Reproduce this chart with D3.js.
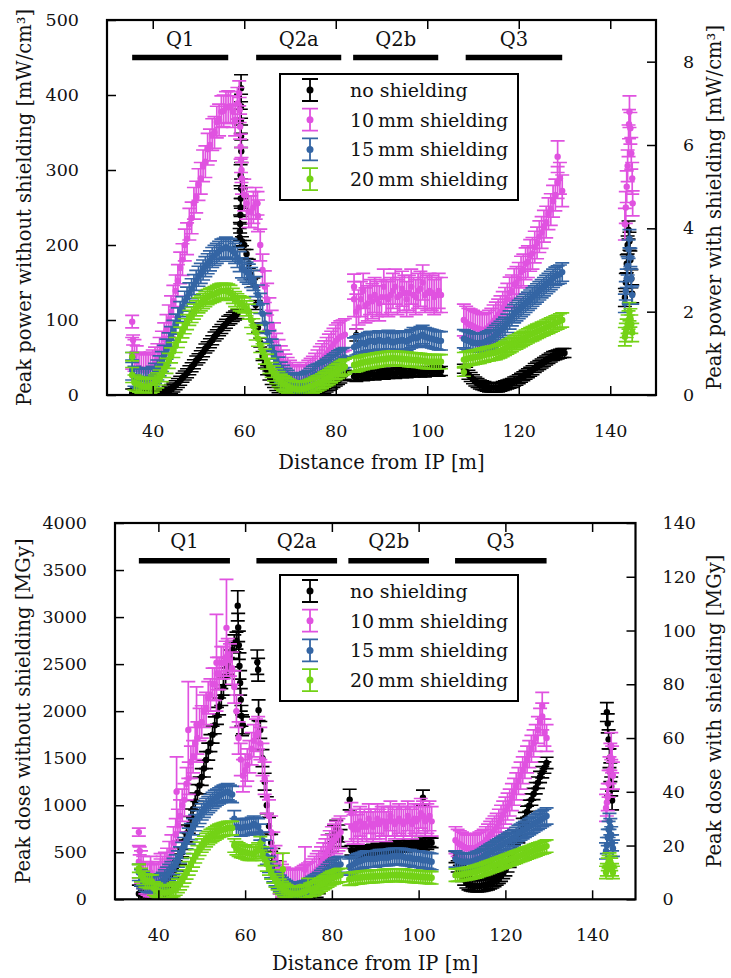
<!DOCTYPE html>
<html>
<head>
<meta charset="utf-8">
<script src="https://cdn.jsdelivr.net/npm/d3@7"></script>
<style>
body { margin: 0; background: #fff; }
text { font-family: "DejaVu Serif", serif; font-size: 19.5px; fill: #111; }
.tick text { font-size: 17.5px; }
.legend text { font-size: 19px; }
</style>
</head>
<body>
<svg id="chart" width="731" height="978"></svg>
<script>
// shared categories
var xTicks = [40, 60, 80, 100, 120, 140];
var legendNames = ["no shielding", "10\u2009mm shielding", "15\u2009mm shielding", "20\u2009mm shielding"];
var colors = ["#000000", "#e052e0", "#3465a4", "#73d216"];
var magnetNames = ["Q1", "Q2a", "Q2b", "Q3"];
var magnetStart = [35.5, 62.6, 83.8, 108.4];
var magnetEnd = [56.5, 81.2, 102.4, 129.5];

// sampling positions along the beam line (m), one list per stretch of magnets
var gridA = d3.range(71, 165).map(function(k) { return k / 2; });   // 35.5 .. 82
var gridB = d3.range(168, 207).map(function(k) { return k / 2; });  // 84 .. 103
var gridC = d3.range(216, 261).map(function(k) { return k / 2; });  // 108 .. 130
var gridD = d3.range(716, 725).map(function(k) { return k / 5; });  // 143.2 .. 144.8
var grids = [gridA, gridB, gridC, gridD];

// ---- top panel: peak power (left axis mW/cm3 for no shielding, right axis for shielded)
var powerLeftTicks = [0, 100, 200, 300, 400, 500];
var powerRightTicks = [0, 2, 4, 6, 8];

var powerNone = [
 [2,2,2,1,1,1,1,1,1,1, 1,1,2,2,3,4,6,8,10,13, 16,19,23,26,29,33,37,41,46,49, 53,57,62,65,69,73,78,81,85,88,
  92,95,99,101,104,106,108,null,205,200, 188,175,160,150,120,90,70,52,42,33, 26,20,16,12,9,6,4,3,2,1,
  1,1,1,1,1,1,1,2,2,3, 4,5,6,7,8,10,12,14,16,18, 20,22,25,27],
 [25,24,26,27,25,27,26,28,27,26, 27,29,28,27,29,28,30,29,28,30, 30,29,31,29,30,31,30,32,31,30, 31,30,32,31,31,32,33,31,32],
 [35,31,27,24,21,18,16,14,13,12, 11,10,10,10,10,10,11,12,13,14, 15,16,18,19,21,23,25,27,29,31, 33,36,38,40,42,44,46,48,50,52, 53,54,55,56,56],
 [130,150,175,200,220,205,180,155,135]
];
var powerNoneErr = [6, 6, 6, 12];
var powerNoneExtra = [[59.0,210,12],[59.05,218,12],[59.1,228,12],[59.15,240,12],[59.2,250,12],[59.25,262,13],[59.3,275,13],[59.2,293,14],[59.35,325,15],[59.3,345,15],[59.25,365,16],[59.3,385,16],[59.3,409,18],[84.5,80,8]];

var powerTen = [
 [1.0,0.95,0.8,0.65,0.62,0.6,0.58,0.6,0.65,0.7, 0.77,0.85,1.0,1.15,1.35,1.55,1.78,2.0,2.25,2.5, 2.75,3.05,3.25,3.6,3.75,4.1,4.25,4.6,4.75,5.05, 5.2,5.5,5.6,5.9,6.0,6.25,6.3,6.55,6.6,6.8,
  6.82,6.9,6.92,6.9,6.8,6.6,7.0,null,5.2,4.8, 4.6,4.4,4.4,4.5,4.6,4.3,3.6,3.0,2.6,2.3, 1.95,1.65,1.35,1.1,0.95,0.8,0.7,0.6,0.52,0.45,
  0.4,0.35,0.32,0.3,0.32,0.35,0.4,0.45,0.5,0.55, 0.62,0.7,0.78,0.85,0.92,1.0,1.08,1.15,1.22,1.3, 1.35,1.4,1.42,1.45],
 [2.3,2.0,2.1,2.3,2.5,2.15,2.2,2.35,2.25,2.4, 2.3,2.2,2.35,2.6,2.35,2.3,2.4,2.5,2.6,2.35, 2.4,2.55,2.45,2.3,2.45,2.6,2.4,2.35,2.5,2.55, 2.7,2.4,2.45,2.5,2.45,2.35,2.4,2.5,2.4],
 [1.8,1.75,1.7,1.68,1.65,1.62,1.6,1.58,1.55,1.57, 1.6,1.65,1.7,1.78,1.85,1.92,2.0,2.1,2.2,2.3, 2.45,2.5,2.65,2.7,2.8,2.95,3.0,3.15,3.2,3.35, 3.4,3.55,3.65,3.8,3.9,4.05,4.15,4.35,4.45,4.65, 4.8,5.1,5.2,4.9,null],
 [4.1,4.5,5.0,5.5,6.1,6.8,6.4,5.8,5.2]
];
var powerTenErr = [0.38, 0.42, 0.38, 0.38];
var powerTenExtra = [[35.5,1.76,0.15],[35.7,1.32,0.12],[58.9,7.24,0.3],[59.0,6.84,0.3],[59.1,6.44,0.3],[59.2,5.96,0.3],[59.3,5.64,0.3],[59.4,5.4,0.3],[62.9,4.6,0.28],[84,2.6,0.3],[128.5,5.72,0.38],[144.1,6.5,0.35],[144.9,4.6,0.3]];

var powerFifteen = [
 [0.6,0.45,0.42,0.4,0.39,0.38,0.38,0.4,0.42,0.45, 0.52,0.6,0.7,0.8,0.95,1.1,1.25,1.4,1.55,1.7, 1.85,2.0,2.12,2.25,2.35,2.45,2.55,2.65,2.75,2.85, 2.92,3.0,3.08,3.15,3.22,3.3,3.35,3.4,3.45,3.5,
  3.52,3.55,3.52,3.5,3.45,3.4,3.3,3.2,3.05,3.0, 2.95,2.9,2.82,2.75,2.6,2.4,2.2,1.95,1.72,1.5, 1.3,1.1,0.95,0.8,0.67,0.55,0.47,0.4,0.35,0.3,
  0.27,0.25,0.25,0.25,0.27,0.3,0.32,0.35,0.4,0.45, 0.48,0.5,0.52,0.55,0.58,0.62,0.66,0.7,0.74,0.78, 0.82,0.85,0.88,0.9],
 [1.15,1.18,1.2,1.25,1.25,1.22,1.28,1.3,1.3,1.27, 1.3,1.32,1.3,1.28,1.3,1.33,1.28,1.26,1.28,1.3, 1.3,1.32,1.3,1.28,1.32,1.35,1.4,1.36,1.38,1.42, 1.45,1.4,1.38,1.36,1.35,1.33,1.32,1.3,1.3],
 [1.35,1.32,1.3,1.28,1.25,1.25,1.25,1.25,1.25,1.27, 1.3,1.32,1.35,1.4,1.45,1.5,1.55,1.6,1.65,1.72, 1.8,1.88,1.95,2.0,2.05,2.1,2.15,2.2,2.25,2.3, 2.35,2.4,2.45,2.5,2.55,2.6,2.65,2.7,2.75,2.8, 2.85,2.88,2.9,2.95,null],
 [2.2,2.5,2.8,3.1,3.5,3.75,3.3,2.8,2.4]
];
var powerFifteenErr = [0.24, 0.22, 0.22, 0.22];
var powerFifteenExtra = [[35.5,0.9,0.12]];

var powerTwenty = [
 [0.48,0.3,0.27,0.25,0.22,0.2,0.2,0.2,0.22,0.25, 0.3,0.35,0.42,0.5,0.6,0.7,0.82,0.95,1.08,1.2, 1.32,1.45,1.55,1.65,1.75,1.85,1.92,2.0,2.08,2.15, 2.2,2.25,2.3,2.35,2.38,2.4,2.42,2.45,2.48,2.5,
  2.5,2.5,2.48,2.45,2.38,2.3,2.25,2.2,2.18,2.15, 2.08,2.0,1.8,1.65,1.5,1.35,1.2,1.05,0.92,0.8, 0.7,0.6,0.52,0.45,0.38,0.32,0.28,0.25,0.21,0.18,
  0.16,0.15,0.14,0.13,0.14,0.15,0.16,0.18,0.2,0.22, 0.25,0.28,0.3,0.33,0.37,0.4,0.43,0.47,0.51,0.55, 0.58,0.62,0.65,0.68],
 [0.72,0.73,0.75,0.77,0.78,0.8,0.8,0.81,0.82,0.83, 0.84,0.85,0.86,0.86,0.87,0.88,0.88,0.89,0.88,0.88, 0.87,0.87,0.86,0.86,0.85,0.85,0.84,0.84,0.83,0.83, 0.82,0.81,0.8,0.8,0.8,0.8,0.8,0.8,0.8],
 [0.85,0.86,0.88,0.89,0.9,0.91,0.92,0.93,0.95,0.96, 0.98,0.99,1.0,1.01,1.02,1.04,1.06,1.09,1.12,1.15, 1.18,1.21,1.25,1.27,1.3,1.33,1.36,1.39,1.42,1.45, 1.47,1.5,1.53,1.55,1.58,1.6,1.63,1.65,1.68,1.7, 1.73,1.75,1.78,1.8,null],
 [1.4,1.5,1.6,1.7,1.8,2.0,1.85,1.7,1.5]
];
var powerTwentyErr = [0.18, 0.17, 0.17, 0.22];
var powerTwentyExtra = [[35.5,0.92,0.1],[108,0.55,0.1]];

// ---- bottom panel: peak dose (left axis MGy for no shielding, right axis for shielded)
var doseLeftTicks = [0, 500, 1000, 1500, 2000, 2500, 3000, 3500, 4000];
var doseRightTicks = [0, 20, 40, 60, 80, 100, 120, 140];

var doseNone = [
 [60,50,45,40,40,40,42,45,50,55, 65,80,100,130,165,210,260,320,390,460, 540,620,700,790,870,960,1040,1130,1210,1300, 1390,1480,1570,1660,1750,1850,1950,2050,2150,2260,
  2370,2480,2560,2650,2720,2750,null,null,1850,null, null,null,null,null,null,null,1800,1500,1250,1000, 780,600,450,320,230,150,100,70,45,30,
  25,20,18,15,15,15,17,20,28,40, 58,80,110,150,200,260,340,420,510,600, 700,750,700,650],
 [null,520,490,510,495,515,500,525,505,530, 515,535,520,545,525,540,530,555,535,560, 545,565,540,570,550,575,555,580,560,585, 565,590,570,595,575,600,580,610,600],
 [null,450,350,300,250,210,180,160,150,145, 140,138,140,145,150,155,160,170,180,195, 210,230,250,280,310,350,400,460,520,590, 660,730,800,865,930,995,1060,1120,1180,1240, 1300,1350,1400,1450,null],
 [null,1990,1870,1700,1500,1350,1200,1050,null]
];
var doseNoneErr = [90, 50, 60, 100];
var doseNoneExtra = [[58.3,3120,160],[58.4,2890,150],[58.55,2700,150],[58.7,2480,140],[58.85,2300,130],[59.0,2120,120],[59.15,1950,110],[59.3,1850,110],[62.8,2520,130],[63.0,2440,120],[63.1,2010,110],[84.1,1060,110],[101,1080,80]];

var doseTen = [
 [14,12,10,8,7.5,7,7,7,7.5,8, 9,10,11.5,13,15.5,18,21,24,27.5,31, 35,37,43,45,51,53,58,60,65,66, 70,71,75,76,80,80,84,84,88,88,
  90,91,89,86,79,70,60,52,46,48, 50,53,56,59,61,62,58,52,45,38, 31,25,19,14,11,8,7,6,5.5,5,
  5,5,5,5,5.5,6,6.5,7,7.5,8, 9,10,11,12,13.5,15,16.5,18,19.5,21, 22,23,24,25],
 [null,27,26,28,26,29,27,28,27,30, 28,27,28,30,28,29,29,27,29,31, 29,28,29,30,29,28,29,31,29,28, 30,29,30,32,31,29,30,31,29],
 [null,22,21,20.5,20,19.5,19,19,19,19, 19,19.5,20,20.5,21,22,23,24,25,26, 27,28.5,30,31.5,33,34.5,36,38,40,42, 44,46,48,50,52,54,56,58,60,63, 66,68,62,60,null],
 [34,36,38,43,48,53,57,52,46]
];
var doseTenErr = [6, 5.5, 5, 5];
var doseTenExtra = [[35.5,25,1.5],[35.7,18,1.5],[38.2,10,6],[40.5,11,6],[44.2,40,13],[46.9,63,18],[48.8,65,14],[53.4,88,18],[55.7,101,18],[73.8,11,8.5],[84.5,32,4],[128.5,72,5]];

var doseFifteen = [
 [10,8,7,6,5.7,5.5,5.5,5.5,5.7,6, 6.5,7,8,9,10,11,12.2,13.5,15,16.5, 18.2,20,21.8,23.5,25.2,27,28.5,30,31.2,32.5, 33.5,34.5,35.2,36,36.8,37.5,38,38.5,39,39.5,
  39.8,40,39.5,39,30,27,26.8,26.5,26.7,27, 27,27,27.5,28,27.5,27,25,22,19,16, 13,11,9.5,8,7,6,5.2,4.5,4,3.5,
  3.2,3,3,3,3.2,3.5,3.8,4,4.5,5, 5.5,6,6.5,7,7.8,8.5,9.2,10,10.8,11.5, 12,12.5,12.8,13],
 [12,12.5,13,13.5,14,14.2,14.5,14.8,15,15, 15,15,15,15.2,15.5,15.5,15.5,15.5,15.5,15.8, 16,16,16,16,16,15.8,15.5,15.5,15.5,15.2, 15,15,15,14.8,14.5,14.5,14.5,14.2,14],
 [null,15,14.5,14.2,14,14,14,14,14,14.2, 14.5,14.8,15,15.5,16,16.5,17,17.5,18,18.5, 19,19.5,20,20.5,21,21.5,22,22.5,23,23.8, 24.5,25,25.5,26,26.5,27,27.5,28,28.5,29, 29.5,30,30.5,31,null],
 [18,20,23,26,29,27,24,21,19]
];
var doseFifteenErr = [3, 3, 3, 3];
var doseFifteenExtra = [];

var doseTwenty = [
 [10.5,9,8,7,6.8,6.5,6.6,4,3.5,3, 2.7,2.5,2.5,2.5,2.7,3,3.5,4,5,6, 7.2,8.5,10,11.5,13,14.5,16,17.5,18.8,20, 21,22,22.8,23.5,24,24.5,25,25.5,25.8,26,
  26.2,26.5,26.5,26.5,20,19,18.5,18,17.8,17.5, 17.2,17,17,17,17.8,18.5,20.8,17,15,13, 11.5,10,8.5,7,6,5,4.2,3.5,3,2.5,
  2.2,2,2,2,2.2,2.5,2.8,3,5.3,3.5, 3.8,4,4.5,5,5.5,6,6.5,7,7.5,8, 8.2,8.5,8.8,9],
 [7.5,7.6,7.8,7.9,8,8.1,8.2,8.3,8.4,8.4, 8.5,8.5,8.6,8.6,8.7,8.7,8.8,8.8,8.9,9, 9,9,9,9,9,8.9,8.8,8.7,8.7,8.6, 8.5,8.5,8.4,8.3,8.3,8.2,8.2,8.1,8],
 [null,9,9,9.1,9.2,9.3,9.5,9.6,9.8,10, 10.2,10.4,10.7,11,11.2,11.5,11.8,12.1,12.4,12.7, 13,13.3,13.6,13.9,14.2,14.5,14.8,15.1,15.4,15.7, 16,16.3,16.6,16.9,17.2,17.5,17.8,18.1,18.4,18.7, 19,19.2,19.5,19.8,null],
 [10,11,13,14,15,14,13,11,10]
];
var doseTwentyErr = [2.5, 2.3, 2.3, 2.3];
var doseTwentyExtra = [[35.5,11.5,1.5],[68.7,11.2,6]];

// [x, value, error] list for one series
function toPoints(segments, errs, extra) {
  var pts = [];
  segments.forEach(function(vals, s) {
    vals.forEach(function(v, i) {
      if (v !== null) pts.push([grids[s][i], v, errs[s]]);
    });
  });
  return pts.concat(extra);
}

var svg = d3.select("#chart");

function drawPanel(p) {
  var x = d3.scaleLinear().domain([30, 150]).range([p.left, p.right]);
  var yL = d3.scaleLinear().domain(p.leftDomain).range([p.bottom, p.top]);
  var yR = d3.scaleLinear().domain(p.rightDomain).range([p.bottom, p.top]);
  var g = svg.append("g");

  g.append("clipPath").attr("id", p.id)
    .append("rect").attr("x", p.left).attr("y", p.top)
    .attr("width", p.right - p.left).attr("height", p.bottom - p.top);

  // error bars + markers, first series on the left axis, others on the right
  var plot = g.append("g").attr("clip-path", "url(#" + p.id + ")");
  p.series.forEach(function(data, i) {
    var y = i === 0 ? yL : yR;
    var sg = plot.append("g");
    sg.selectAll("path").data(data).join("path")
      .attr("fill", "none").attr("stroke", colors[i]).attr("stroke-width", 1.7)
      .attr("d", function(d) {
        var cx = x(d[0]), y1 = y(d[1] + d[2]), y0 = y(d[1] - d[2]);
        return "M" + cx + "," + y0 + "V" + y1 + "M" + (cx - 7) + "," + y1 + "H" + (cx + 7) + "M" + (cx - 7) + "," + y0 + "H" + (cx + 7);
      });
    sg.selectAll("circle").data(data).join("circle")
      .attr("cx", function(d) { return x(d[0]); })
      .attr("cy", function(d) { return y(d[1]); })
      .attr("r", 3.2).attr("fill", colors[i]);
  });

  // magnet bars
  magnetNames.forEach(function(name, i) {
    g.append("line")
      .attr("x1", x(magnetStart[i])).attr("x2", x(magnetEnd[i]))
      .attr("y1", yL(p.barY)).attr("y2", yL(p.barY))
      .attr("stroke", "#000").attr("stroke-width", 5.5);
    g.append("text")
      .attr("x", x((magnetStart[i] + magnetEnd[i]) / 2)).attr("y", yL(p.nameY))
      .attr("text-anchor", "middle").text(name);
  });

  // axes with inward ticks
  var fmt = d3.format("d");
  var axes = g.append("g");
  axes.append("g").attr("transform", "translate(" + p.left + ",0)")
    .call(d3.axisLeft(yL).tickValues(p.leftTicks).tickFormat(fmt).tickSizeInner(-9).tickSizeOuter(0).tickPadding(28));
  axes.append("g").attr("transform", "translate(" + p.right + ",0)")
    .call(d3.axisRight(yR).tickValues(p.rightTicks).tickFormat(fmt).tickSizeInner(-9).tickSizeOuter(0).tickPadding(27));
  axes.append("g").attr("transform", "translate(0," + p.bottom + ")")
    .call(d3.axisBottom(x).tickValues(xTicks).tickFormat(fmt).tickSizeInner(-9).tickSizeOuter(0).tickPadding(29.5));
  axes.append("g").attr("transform", "translate(0," + p.top + ")")
    .call(d3.axisTop(x).tickValues(xTicks).tickSizeInner(-9).tickSizeOuter(0).tickFormat(""));
  axes.selectAll(".domain").remove();
  axes.selectAll(".tick line").attr("stroke-width", 1.5);

  g.append("rect").attr("x", p.left).attr("y", p.top)
    .attr("width", p.right - p.left).attr("height", p.bottom - p.top)
    .attr("fill", "none").attr("stroke", "#000").attr("stroke-width", 2.2);

  // titles
  g.append("text").attr("text-anchor", "middle")
    .attr("transform", "translate(" + p.leftTitleX + "," + (p.top + p.bottom) / 2 + ") rotate(-90)")
    .text(p.leftTitle);
  g.append("text").attr("text-anchor", "middle")
    .attr("transform", "translate(721," + (p.top + p.bottom) / 2 + ") rotate(-90)")
    .text(p.rightTitle);
  g.append("text").attr("text-anchor", "middle")
    .attr("x", (p.left + p.right) / 2).attr("y", p.bottom + p.xTitleGap)
    .text("Distance from IP [m]");

  // legend
  var lg = g.append("g").attr("class", "legend");
  var lx = 280, ly = p.legendY;
  lg.append("rect").attr("x", lx).attr("y", ly).attr("width", 238).attr("height", 126)
    .attr("fill", "#fff").attr("stroke", "#000").attr("stroke-width", 2);
  legendNames.forEach(function(name, i) {
    var cy = ly + 16 + i * 29.7, cx = lx + 30;
    lg.append("path")
      .attr("d", "M" + cx + "," + (cy - 11) + "V" + (cy + 11) + "M" + (cx - 8) + "," + (cy - 11) + "H" + (cx + 8) + "M" + (cx - 8) + "," + (cy + 11) + "H" + (cx + 8))
      .attr("stroke", colors[i]).attr("stroke-width", 1.8).attr("fill", "none");
    lg.append("circle").attr("cx", cx).attr("cy", cy).attr("r", 3.5).attr("fill", colors[i]);
    lg.append("text").attr("x", lx + 70).attr("y", cy + 7).text(name);
  });
}

drawPanel({
  id: "clipTop", left: 107, right: 656, top: 20, bottom: 395,
  leftDomain: [0, 500], rightDomain: [0, 9],
  leftTicks: powerLeftTicks, rightTicks: powerRightTicks,
  series: [
    toPoints(powerNone, powerNoneErr, powerNoneExtra),
    toPoints(powerTen, powerTenErr, powerTenExtra),
    toPoints(powerFifteen, powerFifteenErr, powerFifteenExtra),
    toPoints(powerTwenty, powerTwentyErr, powerTwentyExtra)
  ],
  barY: 450, nameY: 466, legendY: 74, leftTitleX: 31, xTitleGap: 74,
  leftTitle: "Peak power without shielding [mW/cm\u00b3]",
  rightTitle: "Peak power with shielding [mW/cm\u00b3]"
});

drawPanel({
  id: "clipBottom", left: 115, right: 635.5, top: 523, bottom: 899.3,
  leftDomain: [0, 4000], rightDomain: [0, 140],
  leftTicks: doseLeftTicks, rightTicks: doseRightTicks,
  series: [
    toPoints(doseNone, doseNoneErr, doseNoneExtra),
    toPoints(doseTen, doseTenErr, doseTenExtra),
    toPoints(doseFifteen, doseFifteenErr, doseFifteenExtra),
    toPoints(doseTwenty, doseTwentyErr, doseTwentyExtra)
  ],
  barY: 3600, nameY: 3730, legendY: 575, leftTitleX: 30, xTitleGap: 71,
  leftTitle: "Peak dose without shielding [MGy]",
  rightTitle: "Peak dose with shielding [MGy]"
});
</script>
</body>
</html>
